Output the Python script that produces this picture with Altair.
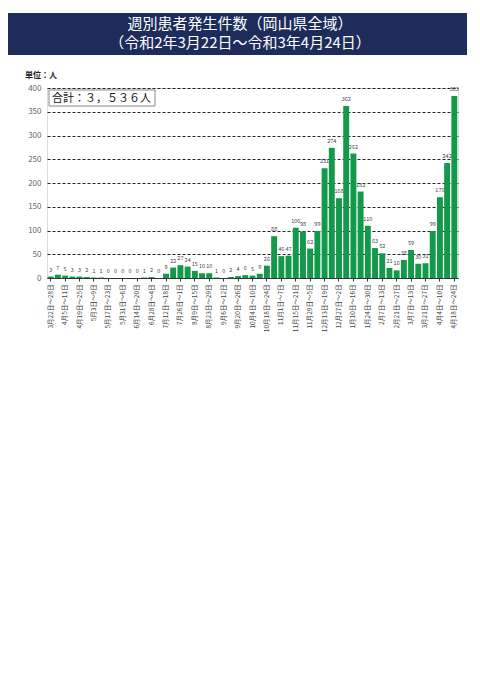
import altair as alt
import pandas as pd

# weekly counts, week 1 = 3/22-3/28 2020 ... week 57 = 4/18-4/24 2021
counts = [3, 7, 5, 3, 3, 2, 1, 1, 0, 0, 0, 0, 0, 1, 2, 0, 9, 22, 27, 24,
          15, 10, 10, 1, 0, 2, 4, 6, 5, 9, 26, 88, 46, 47, 106, 98, 62, 99,
          231, 274, 168, 362, 262, 182, 110, 63, 52, 21, 16, 38, 59, 30, 31,
          99, 170, 242, 383]

# labels shown for every other week (weeks 1, 3, 5, ...)
shown_labels = [
    "3月22日～28日", "4月5日～11日", "4月19日～25日", "5月3日～9日",
    "5月17日～23日", "5月31日～6日", "6月14日～20日", "6月28日～4日",
    "7月12日～18日", "7月26日～1日", "8月9日～15日", "8月23日～29日",
    "9月6日～12日", "9月20日～26日", "10月4日～10日", "10月18日～24日",
    "11月1日～7日", "11月15日～21日", "11月29日～5日", "12月13日～19日",
    "12月27日～2日", "1月10日～16日", "1月24日～30日", "2月7日～13日",
    "2月21日～27日", "3月7日～13日", "3月21日～27日", "4月4日～10日",
    "4月18日～24日",
]

title_line1 = "週別患者発生件数（岡山県全域）"
title_line2 = "（令和2年3月22日～令和3年4月24日）"
unit_text = "単位：人"
total_text = "合計：３，５３６人"

df = pd.DataFrame({"idx": list(range(len(counts))), "count": counts})

W, H = 411, 190
FONT = "Noto Sans CJK JP"

labels_js = "[" + ",".join("'" + s + "'" for s in shown_labels) + "]"

x_enc = alt.X(
    "idx:O",
    scale=alt.Scale(paddingInner=0.18, paddingOuter=0.1),
    axis=alt.Axis(
        title=None,
        values=list(range(0, len(counts), 2)),
        labelExpr=labels_js + "[floor(datum.value / 2)]",
        labelAngle=-90,
        labelFontSize=6.5,
        labelColor="#444",
        labelFont=FONT,
        labelPadding=3,
        ticks=True,
        tickSize=3,
        tickColor="#333",
        domainColor="#333",
        domainWidth=1.2,
        grid=False,
    ),
)
y_enc = alt.Y(
    "count:Q",
    scale=alt.Scale(domain=[0, 400]),
    axis=alt.Axis(
        title=None,
        values=list(range(0, 401, 50)),
        labelFontSize=8,
        labelColor="#666",
        labelFont=FONT,
        labelPadding=6,
        ticks=False,
        domain=False,
        grid=True,
        gridColor="#222",
        gridDash=[3, 2],
        gridWidth=1,
    ),
)

base = alt.Chart(df)
bars = base.mark_bar(color="#12994a").encode(x=x_enc, y=y_enc)
vals = base.mark_text(dy=-4, fontSize=5.5, color="#444", baseline="bottom", font=FONT).encode(
    x=x_enc, y=y_enc, text="count:Q"
)

one = alt.Chart(pd.DataFrame({"k": [0]}))
banner = one.mark_rect(color="#1d2c5b").encode(
    x=alt.value(-39), x2=alt.value(420), y=alt.value(-75), y2=alt.value(-33)
)
t1 = one.mark_text(color="white", fontSize=15, font=FONT, align="center", baseline="middle").encode(
    x=alt.value(193), y=alt.value(-64), text=alt.value(title_line1)
)
t2 = one.mark_text(color="white", fontSize=15, font=FONT, align="center", baseline="middle").encode(
    x=alt.value(193), y=alt.value(-45), text=alt.value(title_line2)
)
unit = one.mark_text(color="#222", fontSize=8, font=FONT, align="left", baseline="middle", fontWeight="bold").encode(
    x=alt.value(-22), y=alt.value(-12), text=alt.value(unit_text)
)
box = one.mark_rect(fill="white", stroke="#888", strokeWidth=1).encode(
    x=alt.value(2), x2=alt.value(108), y=alt.value(2), y2=alt.value(18)
)
total = one.mark_text(color="#111", fontSize=11, font=FONT, align="left", baseline="middle").encode(
    x=alt.value(5), y=alt.value(10.5), text=alt.value(total_text)
)

chart = alt.layer(bars, vals, box, total, banner, t1, t2, unit).properties(
    width=W,
    height=H,
    autosize=alt.AutoSizeParams(type="none"),
    padding={"left": 39, "top": 80, "right": 14, "bottom": 90},
).configure_view(stroke=None).configure(background="white")

chart.save("out.html", embed_options={"renderer": "svg", "actions": False})
